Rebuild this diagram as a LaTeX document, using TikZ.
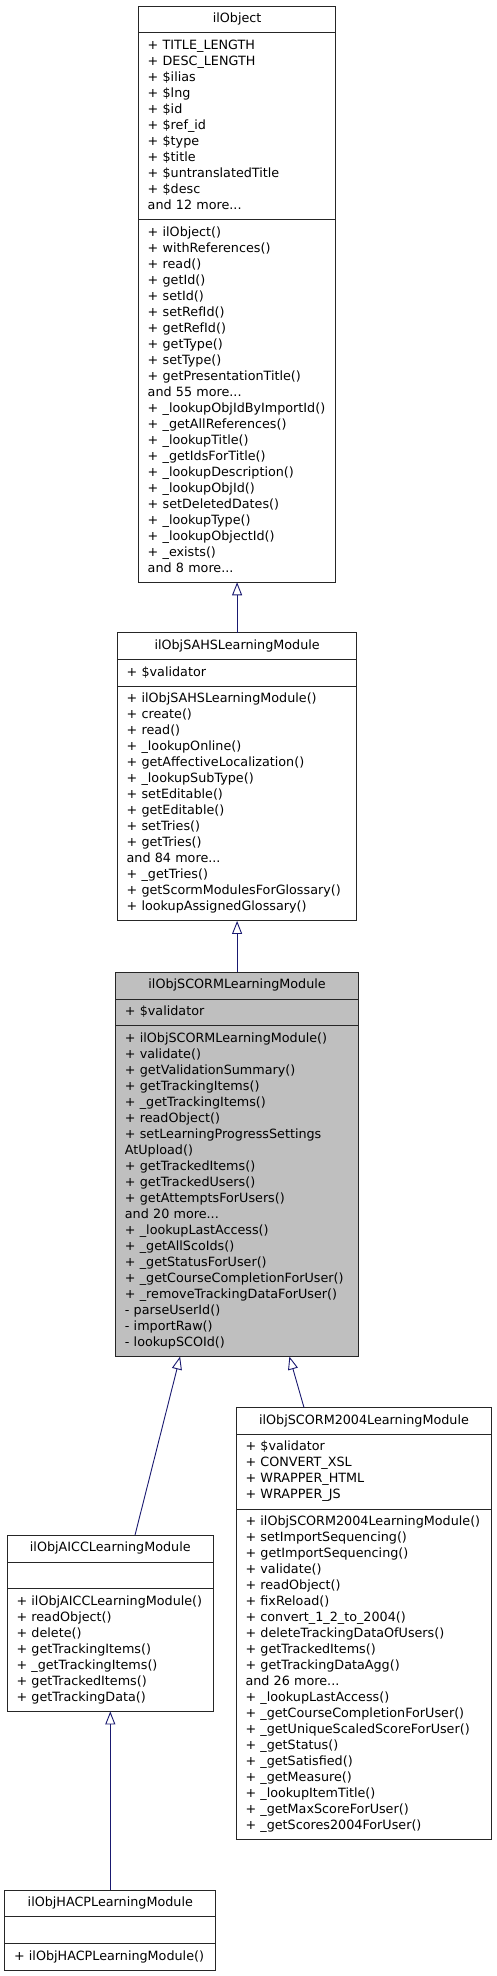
\documentclass[tikz,border=0pt]{standalone}
\usepackage{fontspec}
\setmainfont{DejaVu Sans}
\usetikzlibrary{positioning,arrows.meta,calc}
\newcommand{\umlfont}{\fontsize{12.75}{16}\selectfont}
\definecolor{edgeblue}{HTML}{191970}
\definecolor{curgray}{HTML}{BFBFBF}

\begin{document}
\begin{tikzpicture}[x=1pt, y=1pt, font=\umlfont,
  sec/.style={draw=black!85, line width=1pt, fill=white, outer sep=0pt,
    inner xsep=9.2pt, inner ysep=0pt, text width=#1, align=left,
    execute at begin node=\strut, execute at end node=\strut},
  head/.style={sec=#1, align=center, minimum height=26.9pt},
  lines/.style={minimum height={#1*16+10.7}},
  cur/.style={fill=curgray},
  inherit/.style={draw=edgeblue, line width=0.9pt,
    -{Triangle[open, fill=white, length=13pt, width=10pt]}}]
  \useasboundingbox (0,0) rectangle (496,-1976);
  % ilObject
  \node[head=178.8pt, anchor=north] (objT) at (237.1,-6) {ilObject};
  \node[sec=178.8pt, lines=11, below=0pt of objT] (objA) {+ TITLE\_LENGTH\\+ DESC\_LENGTH\\+ \$ilias\\+ \$lng\\+ \$id\\+ \$ref\_id\\+ \$type\\+ \$title\\+ \$untranslatedTitle\\+ \$desc\\and 12 more...};
  \node[sec=178.8pt, lines=22, below=0pt of objA] (objM) {+ ilObject()\\+ withReferences()\\+ read()\\+ getId()\\+ setId()\\+ setRefId()\\+ getRefId()\\+ getType()\\+ setType()\\+ getPresentationTitle()\\and 55 more...\\+ \_lookupObjIdByImportId()\\+ \_getAllReferences()\\+ \_lookupTitle()\\+ \_getIdsForTitle()\\+ \_lookupDescription()\\+ \_lookupObjId()\\+ setDeletedDates()\\+ \_lookupType()\\+ \_lookupObjectId()\\+ \_exists()\\and 8 more...};
  % ilObjSAHSLearningModule
  \node[head=221pt, below=50.3pt of objM] (sahsT) {ilObjSAHSLearningModule};
  \node[sec=221pt, lines=1, below=0pt of sahsT] (sahsA) {+ \$validator};
  \node[sec=221pt, lines=14, below=0pt of sahsA] (sahsM) {+ ilObjSAHSLearningModule()\\+ create()\\+ read()\\+ \_lookupOnline()\\+ getAffectiveLocalization()\\+ \_lookupSubType()\\+ setEditable()\\+ getEditable()\\+ setTries()\\+ getTries()\\and 84 more...\\+ \_getTries()\\+ getScormModulesForGlossary()\\+ lookupAssignedGlossary()};
  % ilObjSCORMLearningModule
  \node[head=224.4pt, cur, below=51.3pt of sahsM] (scormT) {ilObjSCORMLearningModule};
  \node[sec=224.4pt, cur, lines=1, below=0pt of scormT] (scormA) {+ \$validator};
  \node[sec=224.4pt, cur, lines=20, below=0pt of scormA] (scormM) {+ ilObjSCORMLearningModule()\\+ validate()\\+ getValidationSummary()\\+ getTrackingItems()\\+ \_getTrackingItems()\\+ readObject()\\+ setLearningProgressSettings\\AtUpload()\\+ getTrackedItems()\\+ getTrackedUsers()\\+ getAttemptsForUsers()\\and 20 more...\\+ \_lookupLastAccess()\\+ \_getAllScoIds()\\+ \_getStatusForUser()\\+ \_getCourseCompletionForUser()\\+ \_removeTrackingDataForUser()\\- parseUserId()\\- importRaw()\\- lookupSCOId()};
  % ilObjSCORM2004LearningModule
  \node[head=237pt, below=51pt of scormM, xshift=126.9pt] (s2004T) {ilObjSCORM2004LearningModule};
  \node[sec=237pt, lines=4, below=0pt of s2004T] (s2004A) {+ \$validator\\+ CONVERT\_XSL\\+ WRAPPER\_HTML\\+ WRAPPER\_JS};
  \node[sec=237pt, lines=20, below=0pt of s2004A] (s2004M) {+ ilObjSCORM2004LearningModule()\\+ setImportSequencing()\\+ getImportSequencing()\\+ validate()\\+ readObject()\\+ fixReload()\\+ convert\_1\_2\_to\_2004()\\+ deleteTrackingDataOfUsers()\\+ getTrackedItems()\\+ getTrackingDataAgg()\\and 26 more...\\+ \_lookupLastAccess()\\+ \_getCourseCompletionForUser()\\+ \_getUniqueScaledScoreForUser()\\+ \_getStatus()\\+ \_getSatisfied()\\+ \_getMeasure()\\+ \_lookupItemTitle()\\+ \_getMaxScoreForUser()\\+ \_getScores2004ForUser()};
  % ilObjAICCLearningModule
  \node[head=187.6pt, below=178.6pt of scormM, xshift=-126.8pt] (aiccT) {ilObjAICCLearningModule};
  \node[sec=187.6pt, lines=1, below=0pt of aiccT] (aiccA) {};
  \node[sec=187.6pt, lines=7, below=0pt of aiccA] (aiccM) {+ ilObjAICCLearningModule()\\+ readObject()\\+ delete()\\+ getTrackingItems()\\+ \_getTrackingItems()\\+ getTrackedItems()\\+ getTrackingData()};
  % ilObjHACPLearningModule
  \node[head=192.6pt, below=178.6pt of aiccM] (hacpT) {ilObjHACPLearningModule};
  \node[sec=192.6pt, lines=1, below=0pt of hacpT] (hacpA) {};
  \node[sec=192.6pt, lines=1, below=0pt of hacpA] (hacpM) {+ ilObjHACPLearningModule()};
  % inheritance
  \draw[inherit] (sahsT.north) -- (objM.south);
  \draw[inherit] (scormT.north) -- (sahsM.south);
  \draw[inherit] ($(aiccT.north)+(24.7,0)$) -- ($(scormM.south)+(-57,0)$);
  \draw[inherit] ($(s2004T.north)+(-60,0)$) -- ($(scormM.south)+(52.3,0)$);
  \draw[inherit] (hacpT.north) -- (aiccM.south);
\end{tikzpicture}
\end{document}
